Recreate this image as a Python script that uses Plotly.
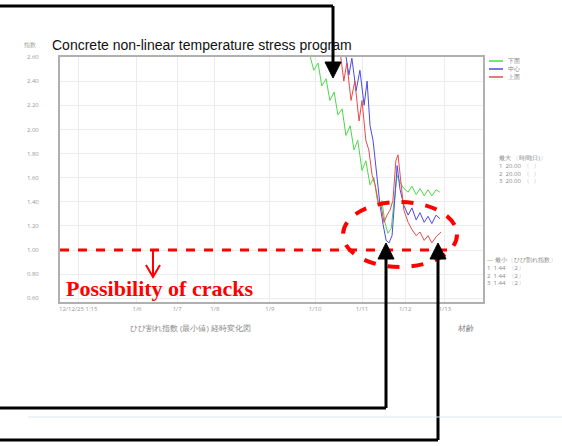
import plotly.graph_objects as go

# Crack index time histories for three locations in the member
green_x = [59.1, 60.0, 61.0, 61.9, 62.9, 63.8, 64.8, 65.7, 66.7, 67.6, 68.6, 69.5, 70.4, 71.4,
           72.3, 73.3, 74.2, 75.2, 76.1, 76.8, 77.5, 78.3, 79.0, 79.7, 80.4, 81.3, 82.3, 83.2,
           84.2, 85.1, 86.1, 87.0, 87.9, 88.9, 89.8]
green_y = [2.61, 2.49, 2.55, 2.36, 2.42, 2.24, 2.31, 2.12, 2.17, 1.95, 2.03, 1.83, 1.91, 1.66,
           1.74, 1.54, 1.60, 1.37, 1.41, 1.23, 1.14, 1.18, 1.41, 1.62, 1.56, 1.51, 1.48, 1.53,
           1.46, 1.51, 1.45, 1.50, 1.45, 1.50, 1.48]

blue_x = [67.4, 68.3, 69.0, 70.0, 70.9, 71.9, 72.6, 73.3, 74.0, 74.7, 75.2, 75.7, 76.4, 77.1,
          77.8, 78.5, 79.2, 79.7, 80.4, 81.3, 82.3, 83.2, 84.2, 85.1, 86.1, 87.0, 87.9, 88.9, 89.8]
blue_y = [2.65, 2.45, 2.59, 2.32, 2.49, 2.20, 2.40, 2.03, 1.91, 1.70, 1.50, 1.36, 1.21, 1.08,
          1.06, 1.12, 1.45, 1.70, 1.50, 1.37, 1.29, 1.35, 1.25, 1.31, 1.23, 1.28, 1.22, 1.29, 1.26]

red_x = [66.2, 67.1, 67.8, 68.8, 69.7, 70.7, 71.4, 72.3, 73.0, 73.8, 74.5, 75.2, 75.9, 76.6,
         77.3, 78.0, 78.7, 79.4, 79.9, 80.6, 81.3, 82.3, 83.2, 84.2, 85.1, 86.1, 87.0, 87.9,
         88.9, 90.1]
red_y = [2.65, 2.40, 2.55, 2.24, 2.40, 2.07, 2.24, 1.91, 1.83, 1.62, 1.54, 1.41, 1.37, 1.23,
         1.29, 1.33, 1.41, 1.74, 1.79, 1.54, 1.33, 1.23, 1.17, 1.12, 1.15, 1.08, 1.12, 1.06,
         1.11, 1.15]

series_names = ["下面", "中心", "上面"]
series_colors = ["#4cd94c", "#4a4ae8", "#e84a4a"]

y_ticks = [0.6, 0.8, 1.0, 1.2, 1.4, 1.6, 1.8, 2.0, 2.2, 2.4, 2.6]
x_ticks = [4.3, 18.2, 27.7, 36.6, 49.6, 60.3, 71.4, 81.6, 91.0]
x_labels = ["12/12/25 1:15", "1/6", "1/7", "1/8", "1/9", "1/10", "1/11", "1/12", "1/13"]

crack_threshold = 1.0

W, H = 562, 446
L, R, T, B = 60, 483, 57, 302


def px(x):
    return (x - L) / (R - L)


def py(y):
    return (B - y) / (B - T)


fig = go.Figure()
for xs, ys, name, col in zip([green_x, blue_x, red_x], [green_y, blue_y, red_y],
                             series_names, series_colors):
    fig.add_trace(go.Scatter(x=xs, y=ys, mode="lines", name=name,
                             line=dict(color=col, width=1), showlegend=False))

shapes = []
annotations = []

# compact key at the upper right
for i, (name, col) in enumerate(zip(series_names, series_colors)):
    yy = 61 + 8 * i
    shapes.append(dict(type="line", xref="paper", yref="paper",
                       x0=px(489), x1=px(503), y0=py(yy), y1=py(yy),
                       line=dict(color=col, width=1.5)))
    annotations.append(dict(text=name, x=px(506), y=py(yy), xref="paper", yref="paper",
                            xanchor="left", yanchor="middle", showarrow=False,
                            font=dict(size=6, color="#888888")))

# crack threshold line
shapes.append(dict(type="line", xref="x", yref="y", x0=0, x1=92,
                   y0=crack_threshold, y1=crack_threshold,
                   line=dict(color="#ff0000", width=3, dash="dash")))
# ellipse around the minimum region
shapes.append(dict(type="circle", xref="paper", yref="paper",
                   x0=px(343), x1=px(457), y0=py(267), y1=py(202),
                   line=dict(color="#ff0000", width=4, dash="dash")))
# red chevron arrow below the threshold line
shapes.append(dict(type="line", xref="paper", yref="paper",
                   x0=px(153), x1=px(153), y0=py(251), y1=py(277),
                   line=dict(color="#ff0000", width=2)))
shapes.append(dict(type="path", xref="paper", yref="paper",
                   path=f"M {px(146)},{py(265)} L {px(153)},{py(277)} L {px(160)},{py(265)}",
                   line=dict(color="#ff0000", width=2)))


# black leader lines with arrowheads
def leader(points, tip):
    segs = []
    for (x0, y0), (x1, y1) in zip(points[:-1], points[1:]):
        segs.append(dict(type="line", xref="paper", yref="paper",
                         x0=px(x0), x1=px(x1), y0=py(y0), y1=py(y1),
                         line=dict(color="#000000", width=3)))
    tx, ty, d = tip
    head = (f"M {px(tx)},{py(ty)} L {px(tx - 8)},{py(ty - 16 * d)} "
            f"L {px(tx + 8)},{py(ty - 16 * d)} Z")
    segs.append(dict(type="path", xref="paper", yref="paper", path=head,
                     fillcolor="#000000", line=dict(color="#000000", width=1)))
    return segs


shapes += leader([(-5, 6), (333, 6), (333, 64)], (333, 78, 1))
shapes += leader([(-5, 408), (386, 408), (386, 258)], (386, 243, -1))
shapes += leader([(-5, 440), (438, 440), (438, 258)], (438, 243, -1))
# light separator
shapes.append(dict(type="line", xref="paper", yref="paper",
                   x0=px(28), x1=px(562), y0=py(417), y1=py(417),
                   line=dict(color="#dce8f4", width=1)))

gray = "#999999"
annotations += [
    dict(text="Concrete non-linear temperature stress program", x=px(50), y=py(45),
         xref="paper", yref="paper", xanchor="left", yanchor="middle", showarrow=False,
         font=dict(family="Liberation Sans", size=14, color="#111111")),
    dict(text="Possibility of cracks", x=px(159), y=py(288), xref="paper", yref="paper",
         xanchor="center", yanchor="middle", showarrow=False,
         font=dict(family="Liberation Serif", size=22, color="#ff0000", weight="bold")),
    dict(text="指数", x=px(30), y=py(45), xref="paper", yref="paper", xanchor="center",
         yanchor="middle", showarrow=False, font=dict(size=6, color=gray)),
    dict(text="ひび割れ指数 (最小値) 経時変化図", x=px(190), y=py(327), xref="paper",
         yref="paper", xanchor="center", yanchor="middle", showarrow=False,
         font=dict(size=8, color="#888888")),
    dict(text="材齢", x=px(465), y=py(327), xref="paper", yref="paper", xanchor="center",
         yanchor="middle", showarrow=False, font=dict(size=8, color="#888888")),
    dict(text="最大 〔時間(日)〕<br>1  20.00  〔  〕<br>2  20.00  〔  〕<br>3  20.00  〔  〕",
         x=px(497), y=py(152), xref="paper", yref="paper", xanchor="left", yanchor="top",
         align="left", showarrow=False, font=dict(size=6, color="#888888")),
    dict(text="— 最小 〔ひび割れ指数〕<br>1  1.44  〔2〕<br>2  1.44  〔2〕<br>3  1.44  〔2〕",
         x=px(485), y=py(254), xref="paper", yref="paper", xanchor="left", yanchor="top",
         align="left", showarrow=False, font=dict(size=6, color="#888888")),
]

fig.update_layout(
    width=W, height=H,
    margin=dict(l=L, r=W - R, t=T, b=H - B),
    paper_bgcolor="white", plot_bgcolor="white",
    showlegend=False,
    shapes=shapes,
    annotations=annotations,
    xaxis=dict(range=[0, 100], tickvals=x_ticks, ticktext=x_labels, showgrid=True,
               gridcolor="#ececec", zeroline=False, showline=True, mirror=True,
               linecolor="#b0b0b0", linewidth=2, ticks="",
               tickfont=dict(size=6, color=gray)),
    yaxis=dict(range=[0.57, 2.60], tickvals=y_ticks,
               ticktext=[f"{v:.2f}" for v in y_ticks], showgrid=True,
               gridcolor="#ececec", zeroline=False, showline=True, mirror=True,
               linecolor="#b0b0b0", linewidth=2, ticks="", ticklabelstandoff=18,
               tickfont=dict(size=6, color=gray)),
)

fig.write_html("out.html")
